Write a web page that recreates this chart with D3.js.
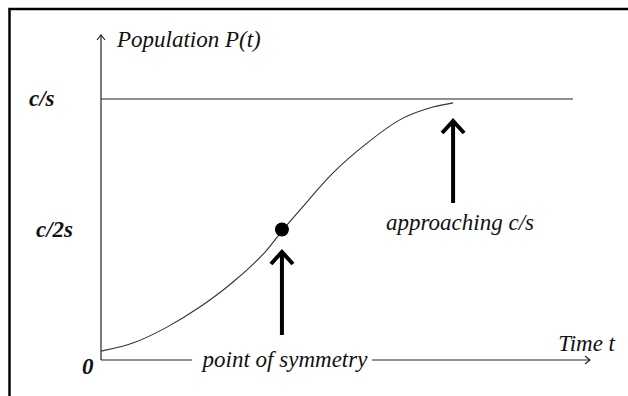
<!DOCTYPE html>
<html>
<head>
<meta charset="utf-8">
<script src="https://cdn.jsdelivr.net/npm/d3@7"></script>
<style>
  body { margin: 0; background: #fff; }
  text { font-family: "Liberation Serif", "Times New Roman", serif; font-style: italic; fill: #111; }
</style>
</head>
<body>
<div id="chart"></div>
<script>
// logistic curve (t in arbitrary units, P as a fraction of c/s)
var times = [0, 0.65, 1.35, 2.02, 2.70, 3.39, 3.70, 4.07, 4.74, 5.44, 6.11, 6.79, 7.20];
var pops  = [0.034, 0.065, 0.126, 0.203, 0.299, 0.421, 0.494, 0.575, 0.716, 0.831, 0.920, 0.969, 0.985];

var yTickValues = [0, 0.5, 1];
var yTickLabels = ["0", "c/2s", "c/s"];

var symmetryPoint = {t: 3.70, p: 0.5};
var annotations = ["point of symmetry", "approaching c/s"];
var annotationTimes = [3.70, 7.20];

var width = 628, height = 396;

var svg = d3.select("#chart")
    .append("svg")
    .attr("width", width)
    .attr("height", height);

var x = d3.scaleLinear().domain([0, 10]).range([101, 590]);
var y = d3.scaleLinear().domain([0, 1]).range([360, 99]);

// frame (top and left only, like the scan)
svg.append("path")
    .attr("d", "M9.5,396 V9 H628")
    .attr("fill", "none")
    .attr("stroke", "#000")
    .attr("stroke-width", 2.5);

// axes
svg.append("line")
    .attr("x1", x(0)).attr("y1", y(0))
    .attr("x2", x(0)).attr("y2", 35)
    .attr("stroke", "#222").attr("stroke-width", 1.2);
svg.append("path")
    .attr("d", "M" + (x(0) - 4) + ",40 L" + x(0) + ",35 L" + (x(0) + 4) + ",40")
    .attr("fill", "none").attr("stroke", "#222").attr("stroke-width", 1.2);

svg.append("line")
    .attr("x1", x(0)).attr("y1", y(0))
    .attr("x2", x(10)).attr("y2", y(0))
    .attr("stroke", "#222").attr("stroke-width", 1.2);
svg.append("path")
    .attr("d", "M" + (x(10) - 5) + "," + (y(0) - 4) + " L" + x(10) + "," + y(0) + " L" + (x(10) - 5) + "," + (y(0) + 4))
    .attr("fill", "none").attr("stroke", "#222").attr("stroke-width", 1.2);

// carrying capacity line
svg.append("line")
    .attr("x1", x(0)).attr("y1", y(1))
    .attr("x2", 573).attr("y2", y(1))
    .attr("stroke", "#222").attr("stroke-width", 1.2);

// y labels
var labelX = [82, 36, 29];
svg.selectAll(".ylab")
    .data(yTickValues)
    .enter()
    .append("text")
    .attr("class", "ylab")
    .attr("x", function(d, i) { return labelX[i]; })
    .attr("y", function(d) { return y(d) + (d === 0 ? 14 : 7); })
    .style("font-size", "23px")
    .style("font-weight", "bold")
    .text(function(d, i) { return yTickLabels[i]; });

// curve
var line = d3.line()
    .x(function(d, i) { return x(times[i]); })
    .y(function(d) { return y(d); })
    .curve(d3.curveMonotoneX);

svg.append("path")
    .datum(pops)
    .attr("d", line)
    .attr("fill", "none")
    .attr("stroke", "#333")
    .attr("stroke-width", 1.1);

// point of symmetry
svg.append("circle")
    .attr("cx", x(symmetryPoint.t))
    .attr("cy", y(symmetryPoint.p))
    .attr("r", 7)
    .attr("fill", "#000");

// big arrows
var arrowTop = [252, 121];
var arrowBottom = [335, 203];
annotationTimes.forEach(function(t, i) {
    var ax = x(t);
    svg.append("line")
        .attr("x1", ax).attr("y1", arrowTop[i] + 2)
        .attr("x2", ax).attr("y2", arrowBottom[i])
        .attr("stroke", "#000").attr("stroke-width", 4);
    svg.append("path")
        .attr("d", "M" + (ax - 11) + "," + (arrowTop[i] + 12) + " L" + ax + "," + arrowTop[i] + " L" + (ax + 11) + "," + (arrowTop[i] + 12))
        .attr("fill", "none").attr("stroke", "#000").attr("stroke-width", 4)
        .attr("stroke-linejoin", "miter");
});

// axis titles
svg.append("text")
    .attr("x", 117).attr("y", 47)
    .style("font-size", "23px")
    .text("Population P(t)");

svg.append("text")
    .attr("x", 615).attr("y", 351)
    .attr("text-anchor", "end")
    .style("font-size", "23px")
    .text("Time t");

// point of symmetry label sitting on the x axis
svg.append("rect")
    .attr("x", 192).attr("y", y(0) - 14)
    .attr("width", 180).attr("height", 28)
    .attr("fill", "#fff");
svg.append("text")
    .attr("x", 285)
    .attr("y", 367)
    .attr("text-anchor", "middle")
    .style("font-size", "23px")
    .text(annotations[0]);

svg.append("text")
    .attr("x", 460)
    .attr("y", 230)
    .attr("text-anchor", "middle")
    .style("font-size", "23px")
    .text(annotations[1]);
</script>
</body>
</html>
